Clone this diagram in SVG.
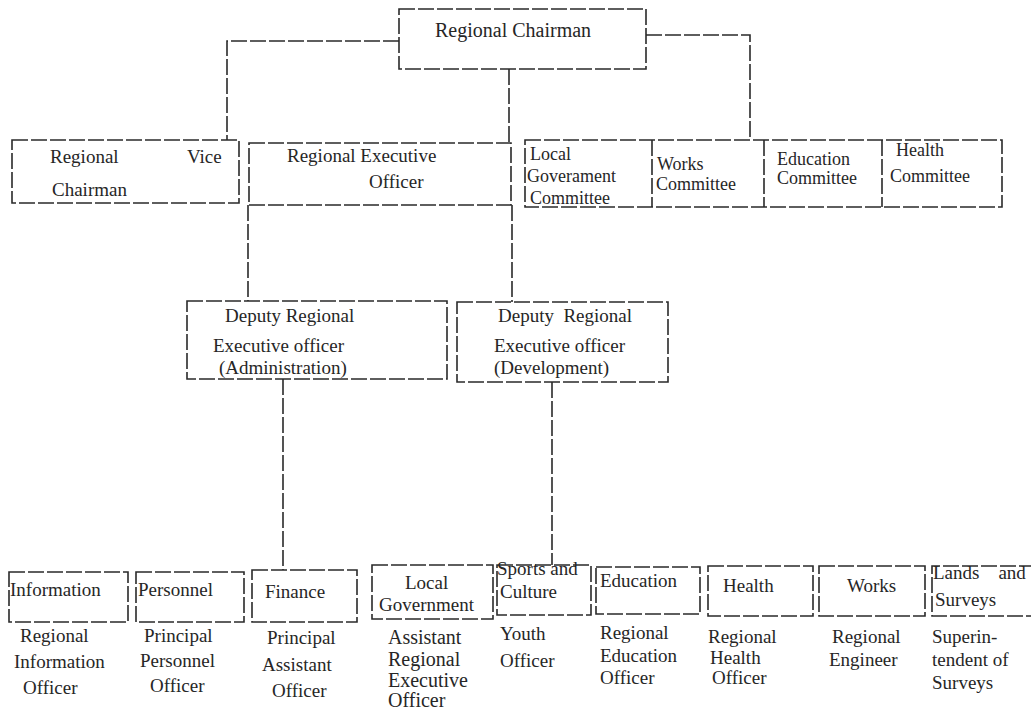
<svg xmlns="http://www.w3.org/2000/svg" width="1031" height="713" viewBox="0 0 1031 713" font-family="'Liberation Serif','Times New Roman',serif">
<style>
.b{fill:none;stroke:#2a2a2a;stroke-width:1.6;stroke-dasharray:16 3}
.c{fill:none;stroke:#2a2a2a;stroke-width:1.6;stroke-dasharray:16 3}
text{font-family:"Liberation Serif","Times New Roman",serif;font-size:18px;fill:#262626}
.l{font-size:19px}
.g{font-size:20px}
</style>
<rect width="1031" height="713" fill="#fff"/>
<g id="connectors">
<path class="c" d="M399 41H227V140"/>
<path class="c" d="M646 35H750V140"/>
<path class="c" d="M509 69V143"/>
<path class="c" d="M248 205V301"/>
<path class="c" d="M512 205V302"/>
<path class="c" d="M283 379V570"/>
<path class="c" d="M552 382V565"/>
</g>
<g id="regional-chairman">
<rect class="b" x="399" y="9" width="247" height="60"/>
<text x="435" y="37" class="g">Regional Chairman</text>
</g>
<g id="vice-chairman">
<rect class="b" x="12" y="140" width="227" height="63"/>
<text x="50" y="163" class="l">Regional</text>
<text x="187" y="163" class="l">Vice</text>
<text x="52" y="196" class="l">Chairman</text>
</g>
<g id="regional-executive-officer">
<rect class="b" x="249" y="143" width="262" height="62"/>
<text x="287" y="162" class="l">Regional Executive</text>
<text x="369" y="188" class="l">Officer</text>
</g>
<g id="committees">
<rect class="b" x="525" y="140" width="477" height="67"/>
<path class="b" d="M652 140V207M764 140V207M882 140V207"/>
</g>
<g id="local-government-committee">
<text x="530" y="160">Local</text>
<text x="527" y="182">Goverament</text>
<text x="530" y="204">Committee</text>
</g>
<g id="works-committee">
<text x="657" y="170">Works</text>
<text x="656" y="190">Committee</text>
</g>
<g id="education-committee">
<text x="777" y="165">Education</text>
<text x="777" y="184">Committee</text>
</g>
<g id="health-committee">
<text x="896" y="156">Health</text>
<text x="890" y="182">Committee</text>
</g>
<g id="deputy-admin">
<rect class="b" x="187" y="301" width="260" height="78"/>
<text x="225" y="322" class="l">Deputy Regional</text>
<text x="213" y="352" class="l">Executive officer</text>
<text x="219" y="374" class="l">(Administration)</text>
</g>
<g id="deputy-development">
<rect class="b" x="457" y="302" width="211" height="80"/>
<text x="498" y="322" class="l" xml:space="preserve">Deputy  Regional</text>
<text x="494" y="352" class="l">Executive officer</text>
<text x="494" y="374" class="l">(Development)</text>
</g>
<g id="information">
<rect class="b" x="9" y="572" width="119" height="50"/>
<text x="10" y="596" class="l">Information</text>
<text x="20" y="642" class="l">Regional</text>
<text x="14" y="668" class="l">Information</text>
<text x="23" y="694" class="l">Officer</text>
</g>
<g id="personnel">
<rect class="b" x="136" y="572" width="108" height="50"/>
<text x="138" y="596" class="l">Personnel</text>
<text x="144" y="642" class="l">Principal</text>
<text x="140" y="667" class="l">Personnel</text>
<text x="150" y="692" class="l">Officer</text>
</g>
<g id="finance">
<rect class="b" x="252" y="570" width="105" height="52"/>
<text x="265" y="598" class="l">Finance</text>
<text x="267" y="644" class="l">Principal</text>
<text x="262" y="671" class="l">Assistant</text>
<text x="272" y="697" class="l">Officer</text>
</g>
<g id="local-government">
<rect class="b" x="372" y="565" width="121" height="54"/>
<text x="405" y="589" class="l">Local</text>
<text x="379" y="611" class="l">Government</text>
<text x="388" y="644" class="g">Assistant</text>
<text x="388" y="666" class="g">Regional</text>
<text x="388" y="687" class="g">Executive</text>
<text x="388" y="707" class="g">Officer</text>
</g>
<g id="sports-culture">
<rect class="b" x="497" y="565" width="94" height="50"/>
<text x="497" y="575" class="l">Sports and</text>
<text x="500" y="598" class="l">Culture</text>
<text x="500" y="640" class="l">Youth</text>
<text x="500" y="667" class="l">Officer</text>
</g>
<g id="education">
<rect class="b" x="596" y="567" width="104" height="47"/>
<text x="600" y="587" class="l">Education</text>
<text x="600" y="639" class="l">Regional</text>
<text x="600" y="662" class="l">Education</text>
<text x="600" y="684" class="l">Officer</text>
</g>
<g id="health">
<rect class="b" x="708" y="566" width="105" height="50"/>
<text x="723" y="592" class="l">Health</text>
<text x="708" y="643" class="l">Regional</text>
<text x="710" y="664" class="l">Health</text>
<text x="712" y="684" class="l">Officer</text>
</g>
<g id="works">
<rect class="b" x="819" y="566" width="106" height="50"/>
<text x="847" y="592" class="l">Works</text>
<text x="832" y="643" class="l">Regional</text>
<text x="829" y="666" class="l">Engineer</text>
</g>
<g id="lands-surveys">
<path class="b" d="M1035 566H932V616H1035"/>
<text x="933" y="579" class="l" xml:space="preserve">Lands    and</text>
<text x="935" y="606" class="l">Surveys</text>
<text x="932" y="643" class="l">Superin-</text>
<text x="932" y="666" class="l">tendent of</text>
<text x="932" y="689" class="l">Surveys</text>
</g>
</svg>
